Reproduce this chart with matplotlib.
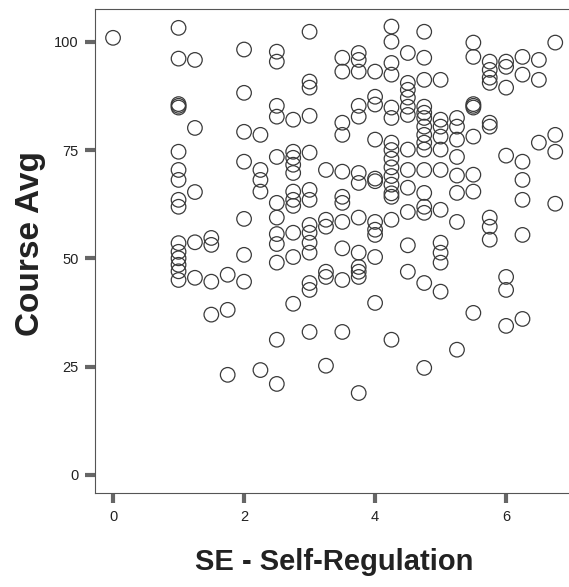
import numpy as np
import matplotlib.pyplot as plt

# SE self-regulation score levels (x) and how many students sit at each level
se_levels = [0, 1, 1.25, 1.5, 1.75, 2, 2.25, 2.5, 2.75, 3, 3.25, 3.5, 3.75,
             4, 4.25, 4.5, 4.75, 5, 5.25, 5.5, 5.75, 6, 6.25, 6.5, 6.75]

# course averages, listed level by level (same order as se_levels)
avg_0 = [100.9]
avg_1 = [103.2, 96.1, 85.6, 85.2, 84.8, 74.6, 70.4, 68.1, 63.5, 61.9, 53.5, 51.5, 50, 48.5, 47, 45]
avg_125 = [95.8, 80.1, 65.3, 53.7, 45.5]
avg_15 = [54.7, 53.1, 44.6, 37]
avg_175 = [46.2, 38.1, 23.1]
avg_2 = [98.2, 88.2, 79.2, 72.3, 59.1, 50.8, 44.6]
avg_225 = [78.5, 70.4, 68.1, 65.4, 24.2]
avg_25 = [97.7, 95.4, 85.2, 82.7, 73.4, 62.8, 59.4, 55.6, 53.3, 49, 31.2, 21]
avg_275 = [82, 74.6, 73.2, 71.6, 69.7, 65.4, 63.5, 62.1, 55.9, 50.3, 39.5]
avg_3 = [102.3, 90.8, 89.4, 82.9, 74.4, 65.8, 63.5, 57.7, 55.9, 53.6, 51.3, 44.3, 42.7, 33]
avg_325 = [70.4, 58.9, 57.3, 46.9, 45.7, 25.2]
avg_35 = [96.3, 93.1, 81.3, 78.5, 70, 64.2, 62.8, 58.4, 52.3, 45, 33]
avg_375 = [97.4, 95.8, 93.1, 85.2, 82.7, 69.7, 67.4, 59.4, 51.3, 48, 46.9, 45.7, 18.9]
avg_4 = [93.1, 87.3, 85.5, 77.4, 68.4, 67.8, 58.4, 56.6, 55.4, 50.3, 39.7]
avg_425 = [103.5, 100, 95.1, 92.4, 84.8, 82.4, 76.7, 75, 73, 71, 69, 67, 65, 64.2, 58.9, 31.2]
avg_45 = [97.4, 90.5, 88.9, 87.1, 85, 83.1, 75.1, 70.4, 66.3, 60.7, 53, 46.9]
avg_475 = [102.3, 96.3, 91.2, 85, 83.6, 82.4, 80.4, 78.5, 76.7, 75.1, 70.4, 65.1, 61.9, 60.5, 44.3, 24.7]
avg_5 = [91.2, 82, 80.4, 78.1, 75.1, 70.4, 61.2, 53.6, 51.3, 49, 42.3]
avg_525 = [82.4, 80.4, 77.4, 73.4, 69.1, 65.1, 58.4, 28.9]
avg_55 = [99.8, 96.5, 85.6, 85.2, 84.8, 78.1, 69.3, 65.4, 37.4]
avg_575 = [95.4, 93.5, 91.7, 90.5, 81.3, 80.4, 59.4, 57.3, 54.3]
avg_6 = [95.4, 94.2, 89.4, 73.7, 45.7, 42.7, 34.4]
avg_625 = [96.5, 92.4, 72.3, 68.1, 63.5, 55.4, 36]
avg_65 = [95.8, 91.2, 76.7]
avg_675 = [99.8, 78.5, 74.6, 62.6]

groups = [avg_0, avg_1, avg_125, avg_15, avg_175, avg_2, avg_225, avg_25, avg_275,
          avg_3, avg_325, avg_35, avg_375, avg_4, avg_425, avg_45, avg_475, avg_5,
          avg_525, avg_55, avg_575, avg_6, avg_625, avg_65, avg_675]

x = np.concatenate([[lv] * len(g) for lv, g in zip(se_levels, groups)])
y = np.concatenate(groups)

fig = plt.figure(figsize=(5.69, 5.87), dpi=100)
ax = fig.add_axes([0.167, 0.160, 0.833, 0.825])

ax.scatter(x, y, s=110, facecolors="none", edgecolors="#3a3a3a", linewidths=0.9)

ax.set_xlim(-0.275, 6.96)
ax.set_ylim(-4.2, 107.6)
ax.set_xticks([0, 2, 4, 6])
ax.set_yticks([0, 25, 50, 75, 100])

for side in ["left", "bottom", "top"]:
    ax.spines[side].set_color("#555555")
    ax.spines[side].set_linewidth(0.8)
ax.spines["right"].set_visible(False)

ax.tick_params(axis="both", direction="out", length=7, width=3, color="#666666",
               labelsize=10.5, labelcolor="#222222", pad=5)

for lab in ax.get_xticklabels() + ax.get_yticklabels():
    lab.set_family("Liberation Sans")

fig.text(0.587, 0.043, "SE - Self-Regulation", ha="center", va="center",
         fontsize=21, fontweight="bold", family="Liberation Sans", color="#222222")
fig.text(0.053, 0.585, "Course Avg", ha="center", va="center", rotation=90,
         fontsize=24, fontweight="bold", family="Liberation Sans", color="#222222")

fig.savefig("out.png", dpi=100)
